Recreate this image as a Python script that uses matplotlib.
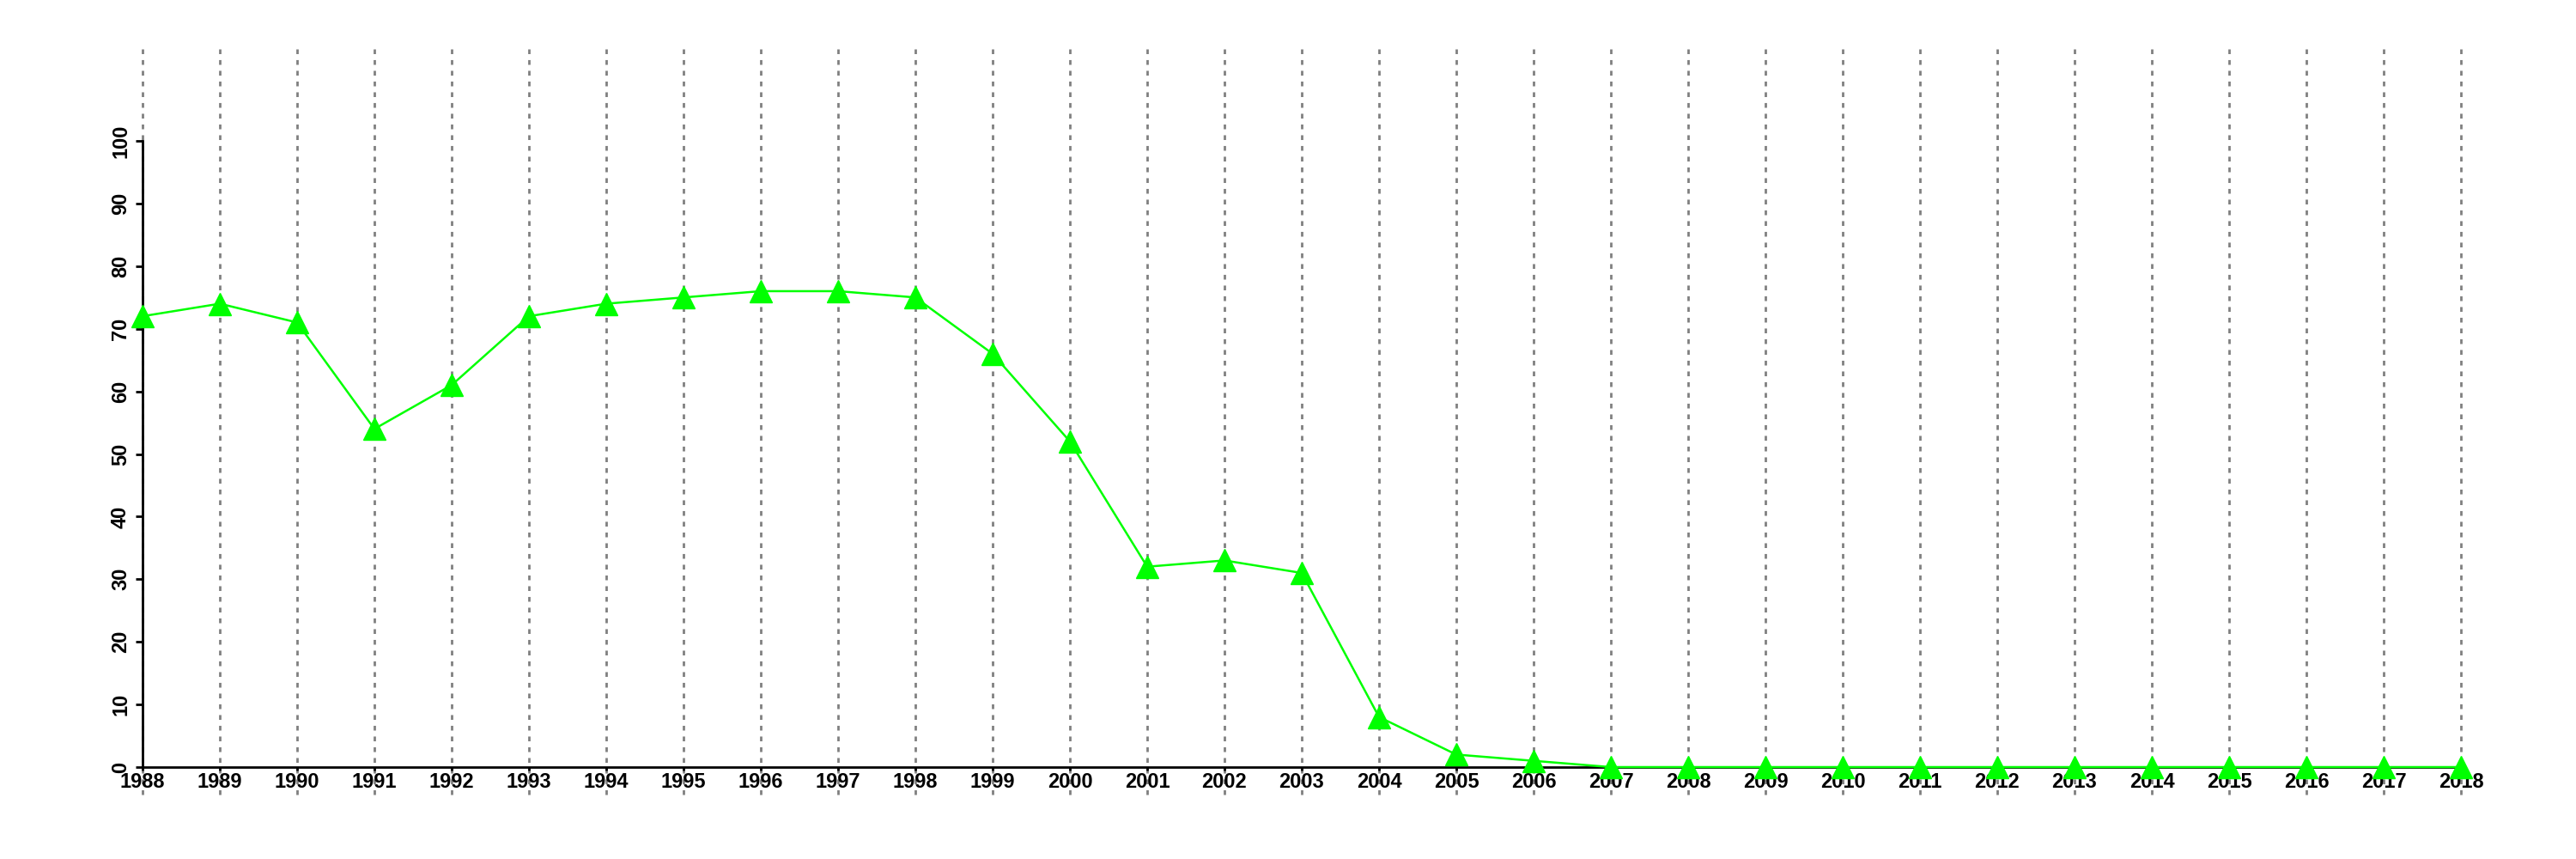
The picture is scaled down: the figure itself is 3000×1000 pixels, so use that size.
import numpy as np
import matplotlib.pyplot as plt

years = list(range(1988, 2019))
values = [72, 74, 71, 54, 61, 72, 74, 75, 76, 76, 75, 66, 52, 32, 33, 31, 8, 2, 1,
          0, 0, 0, 0, 0, 0, 0, 0, 0, 0, 0, 0]
yticks = [0, 10, 20, 30, 40, 50, 60, 70, 80, 90, 100]

plt.rcParams['font.family'] = ['Liberation Sans', 'DejaVu Sans']
plt.rcParams['font.weight'] = 'bold'

fig = plt.figure(figsize=(30, 10), dpi=100)
ax = fig.add_axes([166 / 3000, 107 / 1000, 2700 / 3000, 729 / 1000])

ax.set_xlim(1988, 2018)
ax.set_ylim(0, 100)

# dotted vertical guides, running past the plot area like the original
ax.vlines(years, -4.4, 114.7, colors='#808080', linestyles=(0, (2, 2.5)),
          linewidth=2, clip_on=False, zorder=1)

ax.plot(years, values, color='#00FF00', linewidth=1.8, marker='^',
        markersize=19, clip_on=False, zorder=3)

for s in ['top', 'right']:
    ax.spines[s].set_visible(False)
ax.spines['left'].set_bounds(0, 100)
ax.spines['left'].set_linewidth(2)
ax.spines['bottom'].set_linewidth(2)
ax.spines['bottom'].set_zorder(2)

ax.set_xticks(years)
ax.set_xticklabels([str(y) for y in years], fontsize=17, fontweight='bold')
ax.set_yticks(yticks)
ax.set_yticklabels([str(v) for v in yticks], fontsize=17, fontweight='bold',
                   rotation=90, va='center')
ax.tick_params(axis='y', length=6, width=2, pad=4)
ax.tick_params(axis='x', length=3, width=2, pad=1)

fig.savefig('out.png', dpi=100)
